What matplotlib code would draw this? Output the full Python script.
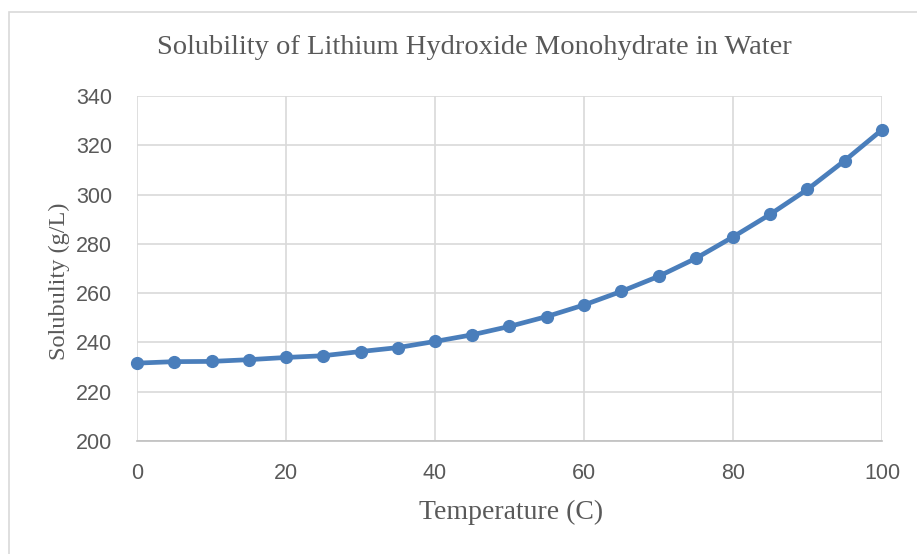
import matplotlib.pyplot as plt
from matplotlib.patches import Rectangle

# temperature (C) and solubility (g/L)
temps = [0, 5, 10, 15, 20, 25, 30, 35, 40, 45, 50, 55, 60, 65, 70, 75, 80, 85, 90, 95, 100]
solubility = [231.6, 232.2, 232.3, 233.0, 233.9, 234.6, 236.3, 237.9, 240.4, 243.1,
              246.5, 250.5, 255.2, 260.7, 266.8, 274.1, 282.8, 292.0, 302.1, 313.8, 326.3]
x_ticks = [0, 20, 40, 60, 80, 100]
y_ticks = [200, 220, 240, 260, 280, 300, 320, 340]

W, H = 917, 554
fig = plt.figure(figsize=(W / 100, H / 100), dpi=100)
fig.patch.set_facecolor('white')

# outer chart border (runs off the right and bottom of the screenshot)
fig.patches.append(Rectangle((8.5 / W, -0.05), 1.2, 1 - 11.5 / H + 0.05,
                             transform=fig.transFigure, fill=False,
                             edgecolor='#d9d9d9', linewidth=1.2))

ax = fig.add_axes([137 / W, 1 - 441 / H, (882 - 137) / W, (441 - 96) / H])

blue = '#4a7ebb'
ax.plot(temps, solubility, color=blue, linewidth=3.4, marker='o',
        markersize=8.5, markerfacecolor=blue, markeredgecolor=blue,
        solid_capstyle='round', zorder=3, clip_on=False)

ax.set_xlim(0, 100)
ax.set_ylim(200, 340)
ax.set_xticks(x_ticks)
ax.set_yticks(y_ticks)

ax.grid(True, color='#d9d9d9', linewidth=1.2)
ax.set_axisbelow(True)
for side in ['top', 'right', 'left']:
    ax.spines[side].set_visible(False)
ax.spines['bottom'].set_color('#bfbfbf')
ax.spines['bottom'].set_linewidth(1.2)
ax.tick_params(length=0, labelsize=15.5, labelcolor='#595959')
ax.tick_params(axis='y', pad=18)
ax.tick_params(axis='x', pad=16)
for lbl in ax.get_xticklabels() + ax.get_yticklabels():
    lbl.set_family('Liberation Sans')

serif = 'Liberation Serif'
fig.text(474 / W, 1 - 47 / H, 'Solubility of Lithium Hydroxide Monohydrate in Water',
         ha='center', va='center', fontsize=20.5, family=serif, color='#595959')
ax.set_xlabel('Temperature (C)', fontsize=20, family=serif, color='#595959', va='center')
ax.set_ylabel('Solubulity (g/L)', fontsize=17.5, family=serif, color='#595959', va='center')
ax.xaxis.set_label_coords((511 - 137) / 745, (441 - 512) / 345)
ax.yaxis.set_label_coords((59 - 137) / 745, (441 - 281) / 345)

fig.savefig('out.png', dpi=100, facecolor='white')
